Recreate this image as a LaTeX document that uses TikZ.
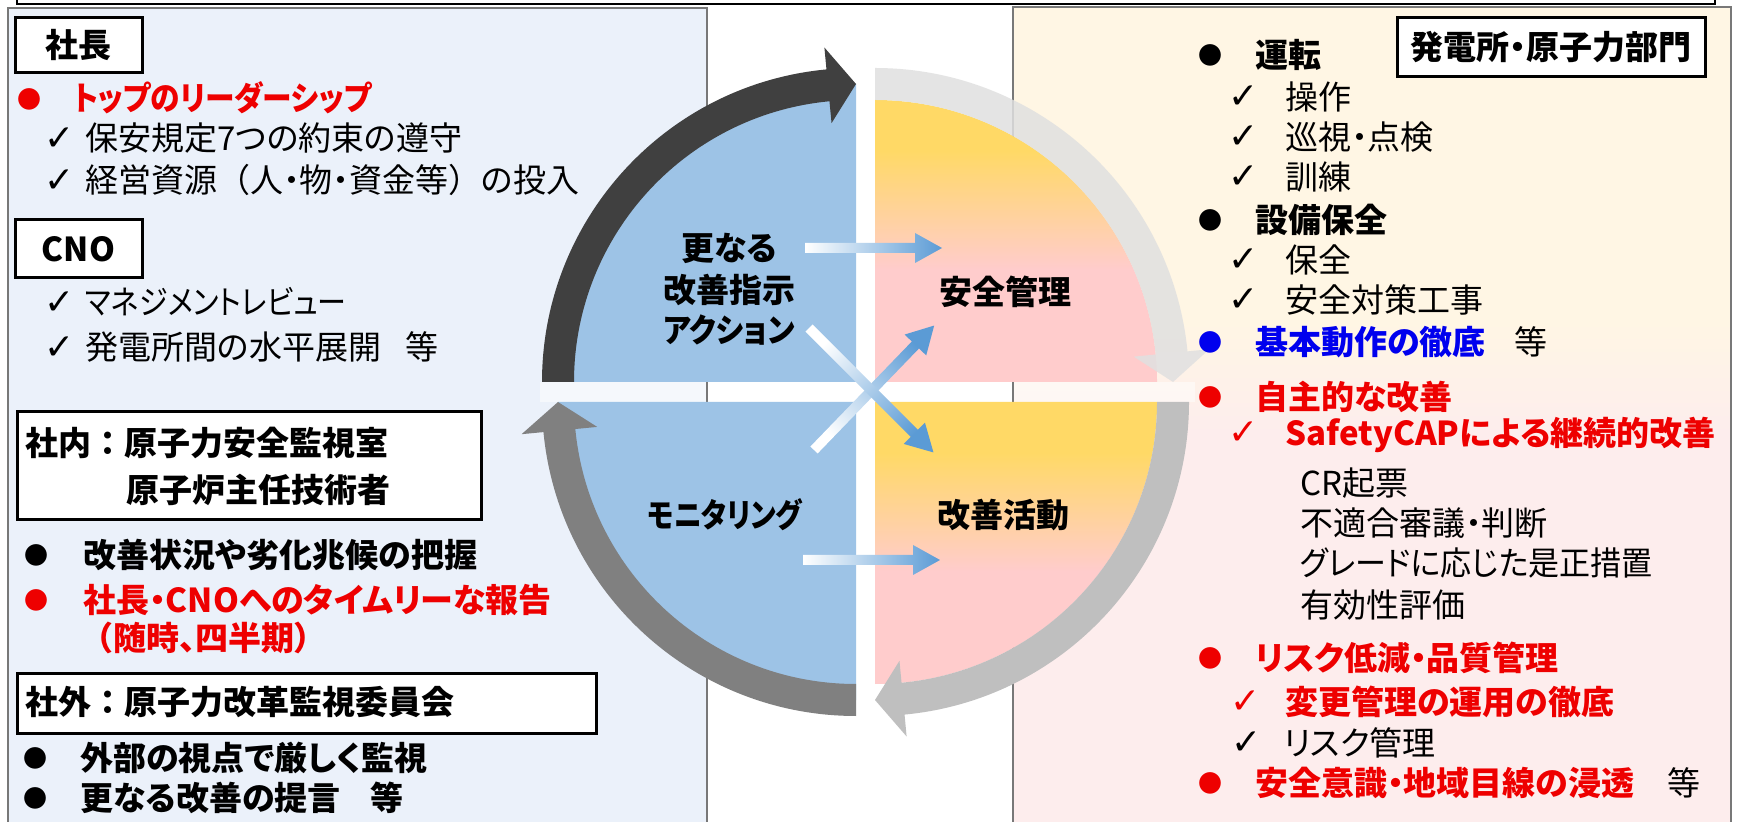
\documentclass[tikz,border=0pt]{standalone}
\usepackage{graphicx}
\usepackage{fontspec}
\setmainfont{Noto Sans CJK JP}[RawFeature=+palt]
\newfontfamily\jpw{Noto Sans CJK JP}
\newfontfamily\dvs{DejaVu Sans}
\usetikzlibrary{calc}
\definecolor{lpanel}{RGB}{235,241,250}
\definecolor{rtop}{RGB}{255,246,228}
\definecolor{rbot}{RGB}{253,237,237}
\definecolor{qblue}{RGB}{157,195,230}
\definecolor{qyellow}{RGB}{255,217,102}
\definecolor{qpink}{RGB}{255,204,204}
\definecolor{arrdark}{RGB}{64,64,64}
\definecolor{arrlight}{RGB}{224,224,224}
\definecolor{arrmid}{RGB}{191,191,191}
\definecolor{arrgray}{RGB}{128,128,128}
\definecolor{ablue}{RGB}{91,155,213}
\definecolor{jred}{RGB}{238,0,0}
\definecolor{jblue}{RGB}{0,0,238}
\definecolor{pline}{RGB}{120,120,120}
\pgfdeclareverticalshading{quadshade}{100bp}{color(0bp)=(qpink); color(25bp)=(qpink); color(45bp)=(qpink); color(66bp)=(qyellow); color(100bp)=(qyellow)}
\pgfdeclareverticalshading{rpanelshade}{100bp}{color(0bp)=(rbot); color(25bp)=(rbot); color(49bp)=(rbot); color(56bp)=(rtop); color(100bp)=(rtop)}
\tikzset{
  txt/.style={inner sep=0pt, anchor=west, text height=14.5pt, text depth=2pt, font=\fontsize{16.5}{20}\selectfont},
  bt/.style={txt, font=\bfseries\fontsize{16.5}{20}\selectfont},
  btw/.style={txt, font=\jpw\bfseries\fontsize{16.5}{20}\selectfont},
  ct/.style={bt, anchor=center},
  bul/.style={inner sep=0pt, anchor=center, font=\fontsize{12}{12}\selectfont},
  chk/.style={inner sep=0pt, anchor=center, font=\dvs\fontsize{18}{18}\selectfont},
  tbox/.style={draw=black, line width=1.5pt, fill=white, inner sep=0pt, text height=14.5pt, text depth=2pt, font=\bfseries\fontsize{16.5}{20}\selectfont},
  panelline/.style={draw=pline, line width=0.6pt}
}
\newcommand\gradarrow[6]{%
  \coordinate (#1) at (#2,#3);
  \shade[top color=ablue, bottom color=white, shading angle=#6]
    ($(#1)+(#4+90:5)$) -- ($(#1)+(#4:#5-27)+(#4+90:5)$) -- ($(#1)+(#4:#5-27)+(#4+90:15)$) --
    ($(#1)+(#4:#5)$) -- ($(#1)+(#4:#5-27)+(#4-90:15)$) -- ($(#1)+(#4:#5-27)+(#4-90:5)$) --
    ($(#1)+(#4-90:5)$) -- cycle;}
\begin{document}
\begin{tikzpicture}[x=0.5pt,y=0.5pt]
\useasboundingbox (0,0) rectangle (1739,-822);
\clip (0,0) rectangle (1739,-822);
\fill[white] (0,0) rectangle (1739,-822);
% top frame
\draw[line width=1pt] (17,5) -- (17,-4) -- (1715,-4) -- (1715,5);
% panels
\fill[lpanel] (8,-8) rectangle (707,-830);
\shade[shading=rpanelshade] (1013,-7) rectangle (1731,-830);
\fill[white, opacity=0.5] (540,-382) rectangle (1195,-402);
\draw[panelline] (8,-830) -- (8,-8) -- (707,-8) -- (707,-830);
\draw[panelline] (1013,-830) -- (1013,-7) -- (1731,-7) -- (1731,-830);
% cycle: upper left
\begin{scope}[shift={(856,-382)}]
  \fill[qblue] (0,0) -- (180:298) arc[start angle=180,end angle=90,radius=298] -- cycle;
  \fill[arrdark] (180:314) arc[start angle=180,end angle=95.4,radius=314] -- (95.4:336) -- (90:298) -- (95.4:260) -- (95.4:282) arc[start angle=95.4,end angle=180,radius=282] -- cycle;
\end{scope}
% upper right
\begin{scope}[shift={(875,-382)}]
  \shade[shading=quadshade] (0,0) -- (90:282) arc[start angle=90,end angle=0,radius=282] -- cycle;
  \fill[arrlight, opacity=0.85] (90:314) arc[start angle=90,end angle=5.6,radius=314] -- (5.6:336) -- (0:298) -- (5.6:260) -- (5.6:282) arc[start angle=5.6,end angle=90,radius=282] -- cycle;
\end{scope}
% lower right
\begin{scope}[shift={(875,-402)}]
  \shade[shading=quadshade] (0,0) -- (0:282) arc[start angle=0,end angle=-90,radius=282] -- cycle;
  \fill[arrmid] (0:314) arc[start angle=0,end angle=-84.6,radius=314] -- (-84.6:336) -- (-90:298) -- (-84.6:260) -- (-84.6:282) arc[start angle=-84.6,end angle=0,radius=282] -- cycle;
\end{scope}
% lower left
\begin{scope}[shift={(856,-402)}]
  \fill[qblue] (0,0) -- (-90:298) arc[start angle=-90,end angle=-180,radius=298] -- cycle;
  \fill[arrgray] (-90:314) arc[start angle=-90,end angle=-174.5,radius=314] -- (-174.5:336) -- (-180:298) -- (-174.5:260) -- (-174.5:282) arc[start angle=-174.5,end angle=-90,radius=282] -- cycle;
\end{scope}
% inner arrows
\gradarrow{ga1}{805}{-248}{0}{137}{-90}
\gradarrow{ga3}{814}{-450}{46}{173}{-44}
\gradarrow{ga2}{809}{-328}{-45}{176}{-135}
\gradarrow{ga4}{803}{-560}{0}{137}{-90}
% circle labels
\node[ct] (k1) at (729,-248) {更なる};
\node[ct] (k2) at (729,-290) {改善指示};
\node[ct] (k3) at (729,-330) {\scalebox{0.9}[1]{アクション}};
\node[ct] (l2) at (1005,-292) {安全管理};
\node[ct] (l3) at (725,-515) {\scalebox{0.84}[1]{モニタリング}};
\node[ct] (l4) at (1003,-515) {改善活動};
% left panel
\node[tbox, minimum width=63.5pt, minimum height=27.5pt] (pres) at (78.5,-45.5) {社長};
\node[bul, text=jred] (b1) at (30,-99) {●};
\node[bt, text=jred] (t1) at (73,-98) {\scalebox{0.9}[1]{トップのリーダーシップ}};
\node[chk] (c1) at (60,-139) {✓};
\node[txt] (t2) at (85,-138) {保安規定7つの約束の遵守};
\node[chk] (c2) at (60,-181) {✓};
\node[txt] (t3) at (85,-180) {経営資源{\jpw （}人・物・資金等{\jpw ）}の投入};
\node[tbox, minimum width=63.5pt, minimum height=29pt] (cno) at (78.5,-249) {CNO};
\node[chk] (c3) at (60,-303) {✓};
\node[txt] (t4) at (85,-302) {\scalebox{0.88}[1]{マネジメントレビュー}};
\node[chk] (c4) at (60,-348) {✓};
\node[txt] (t5) at (85,-347) {発電所間の水平展開\hspace{0.75em}等};
\node[tbox, anchor=north west, minimum width=232pt, minimum height=54pt] (inbox) at (16,-410) {};
\node[btw] (t6) at (25,-443) {社内：原子力安全監視室};
\node[bt] (t7) at (126,-490) {原子炉主任技術者};
\node[bul] (b2) at (37,-555) {●};
\node[bt] (t8) at (83,-555) {改善状況や劣化兆候の把握};
\node[bul, text=jred] (b3) at (37,-600) {●};
\node[bt, text=jred] (t9) at (83,-600) {社長・CNOへのタイムリーな報告};
\node[bt, text=jred] (t10) at (80,-638) {{\jpw （}随時、四半期）};
\node[tbox, anchor=north west, minimum width=289.5pt, minimum height=30pt] (outbox) at (16,-672) {};
\node[btw] (t11) at (25,-702) {社外：原子力改革監視委員会};
\node[bul] (b4) at (36,-758) {●};
\node[bt] (t12) at (80,-758) {外部の視点で厳しく監視};
\node[bul] (b5) at (36,-798) {●};
\node[bt] (t13) at (80,-798) {更なる改善の提言\hspace{0.9em}等};
% right panel
\node[tbox, minimum width=154pt, minimum height=29.5pt] (hbox) at (1551,-47.5) {発電所・原子力部門};
\node[bul] (rb1) at (1210,-55) {●};
\node[bt] (r1) at (1255,-55) {運転};
\node[chk] (rc1) at (1244,-97) {✓};
\node[txt] (r2) at (1285,-97) {操作};
\node[chk] (rc2) at (1244,-137) {✓};
\node[txt] (r3) at (1285,-137) {巡視・点検};
\node[chk] (rc3) at (1244,-177) {✓};
\node[txt] (r4) at (1285,-177) {訓練};
\node[bul] (rb2) at (1210,-220) {●};
\node[bt] (r5) at (1255,-220) {設備保全};
\node[chk] (rc4) at (1244,-260) {✓};
\node[txt] (r6) at (1285,-260) {保全};
\node[chk] (rc5) at (1244,-300) {✓};
\node[txt] (r7) at (1285,-300) {安全対策工事};
\node[bul, text=jblue] (rb3) at (1210,-342) {●};
\node[bt, text=jblue] (r8) at (1255,-342) {基本動作の徹底};
\node[txt] (r8b) at (1514,-342) {等};
\node[bul, text=jred] (rb4) at (1210,-397) {●};
\node[bt, text=jred] (r9) at (1255,-397) {自主的な改善};
\node[chk, text=jred] (rc6) at (1244,-433) {✓};
\node[bt, text=jred] (r10) at (1285,-433) {SafetyCAPによる継続的改善};
\node[txt] (r11) at (1300,-483) {CR起票};
\node[txt] (r12) at (1300,-523) {不適合審議・判断};
\node[txt] (r13) at (1300,-563) {\scalebox{0.94}[1]{グレードに応じた是正措置}};
\node[txt] (r14) at (1300,-605) {有効性評価};
\node[bul, text=jred] (rb5) at (1210,-658) {●};
\node[bt, text=jred] (r15) at (1255,-658) {リスク低減・品質管理};
\node[chk, text=jred] (rc7) at (1246,-702) {✓};
\node[bt, text=jred] (r16) at (1285,-702) {変更管理の運用の徹底};
\node[chk] (rc8) at (1247,-743) {✓};
\node[txt] (r17) at (1283,-743) {リスク管理};
\node[bul, text=jred] (rb6) at (1210,-783) {●};
\node[bt, text=jred] (r18) at (1255,-783) {安全意識・地域目線の浸透};
\node[txt] (r18b) at (1667,-783) {等};
\end{tikzpicture}
\end{document}
